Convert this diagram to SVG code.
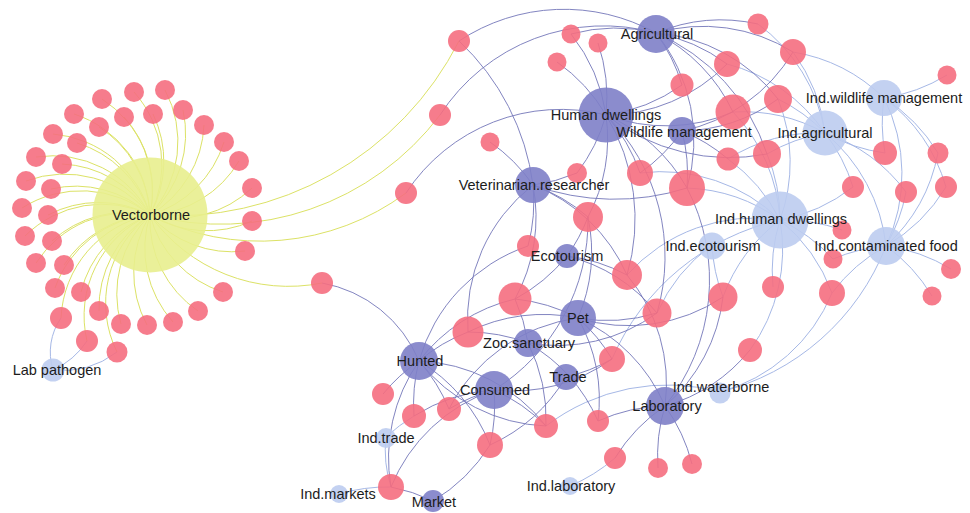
<svg xmlns="http://www.w3.org/2000/svg" width="970" height="513" viewBox="0 0 970 513">
<style>
.y{fill:#E8EE8E}.r{fill:#F56E80}.p{fill:#7E80C8}.l{fill:#BDCCEF}
circle{opacity:.9}
.ey{stroke:#DCE266;stroke-width:1;fill:none}
.ep{stroke:#5C60AE;stroke-width:.9;fill:none;opacity:.85}
.el{stroke:#A6B8E6;stroke-width:1;fill:none}
text{font-family:"Liberation Sans",Arial,sans-serif;font-size:14.5px;fill:#1c1c1c;text-anchor:middle}
</style>
<rect width="970" height="513" fill="#fff"/>
<g id="connectors">
<g class="ey">
<path d="M150 215A110 110 0 0 0 102 99"/><path d="M150 215A110 110 0 0 0 134 92"/><path d="M150 215A110 110 0 0 0 165 90"/><path d="M150 215A110 110 0 0 0 74 114"/><path d="M150 215A110 110 0 0 0 53 134"/><path d="M150 215A110 110 0 0 0 36 157"/><path d="M150 215A110 110 0 0 0 26 181"/><path d="M150 215A110 110 0 0 0 22 208"/><path d="M150 215A110 110 0 0 0 25 236"/><path d="M150 215A110 110 0 0 0 36 263"/><path d="M150 215A110 110 0 0 0 55 288"/><path d="M150 215A110 110 0 0 0 61 318"/><path d="M150 215A110 110 0 0 0 87 341"/><path d="M150 215A110 110 0 0 0 117 352"/><path d="M150 215A110 110 0 0 0 99 127"/><path d="M150 215A110 110 0 0 0 124 117"/><path d="M150 215A110 110 0 0 0 153 114"/><path d="M150 215A110 110 0 0 0 183 110"/><path d="M150 215A110 110 0 0 0 204 125"/><path d="M150 215A110 110 0 0 0 224 142"/><path d="M150 215A110 110 0 0 0 239 161"/><path d="M150 215A110 110 0 0 0 252 188"/><path d="M150 215A110 110 0 0 0 252 221"/><path d="M150 215A110 110 0 0 0 245 251"/><path d="M150 215A110 110 0 0 0 223 292"/><path d="M150 215A110 110 0 0 0 198 311"/><path d="M150 215A110 110 0 0 0 173 322"/><path d="M150 215A110 110 0 0 0 147 325"/><path d="M150 215A110 110 0 0 0 121 324"/><path d="M150 215A110 110 0 0 0 99 311"/><path d="M150 215A110 110 0 0 0 81 292"/><path d="M150 215A110 110 0 0 0 64 265"/><path d="M150 215A110 110 0 0 0 52 241"/><path d="M150 215A110 110 0 0 0 48 215"/><path d="M150 215A110 110 0 0 0 51 189"/><path d="M150 215A110 110 0 0 0 62 164"/><path d="M150 215A110 110 0 0 0 77 143"/>
<path d="M150 215A320 320 0 0 0 459 41"/><path d="M150 215A275 275 0 0 0 440 115"/><path d="M150 215A245 245 0 0 0 406 193"/><path d="M150 215A170 170 0 0 0 322 283"/>
</g>
<g class="el">
<path d="M53 370A60 60 0 0 1 61 318"/><path d="M53 370A80 80 0 0 0 87 341"/><path d="M53 370A90 90 0 0 0 117 352"/>
<path d="M640 173A170 170 0 0 1 780 220"/><path d="M687 188A170 170 0 0 1 780 220"/>
<path d="M758 24A170 170 0 0 1 825 133"/><path d="M793 52A170 170 0 0 1 825 133"/><path d="M793 52A170 170 0 0 1 884 98"/>
<path d="M727 64A170 170 0 0 1 825 133"/><path d="M733 112A170 170 0 0 1 825 133"/><path d="M733 112A170 170 0 0 1 780 220"/>
<path d="M778 99A170 170 0 0 1 825 133"/><path d="M778 99A170 170 0 0 1 780 220"/><path d="M947 75A170 170 0 0 1 884 98"/>
<path d="M728 159A170 170 0 0 1 825 133"/><path d="M728 159A170 170 0 0 1 780 220"/><path d="M767 154A170 170 0 0 1 780 220"/><path d="M767 154A170 170 0 0 1 825 133"/>
<path d="M885 153A170 170 0 0 1 825 133"/><path d="M885 153A170 170 0 0 1 884 98"/><path d="M938 153A170 170 0 0 0 884 98"/><path d="M938 153A170 170 0 0 1 886 246"/>
<path d="M853 187A170 170 0 0 0 825 133"/><path d="M853 187A170 170 0 0 1 780 220"/><path d="M906 192A170 170 0 0 0 825 133"/><path d="M906 192A170 170 0 0 1 886 246"/>
<path d="M946 187A170 170 0 0 0 884 98"/><path d="M946 187A170 170 0 0 1 886 246"/><path d="M842 230A170 170 0 0 0 780 220"/>
<path d="M833 259A170 170 0 0 0 780 220"/><path d="M833 259A170 170 0 0 1 886 246"/><path d="M773 287A170 170 0 0 1 780 220"/>
<path d="M723 297A170 170 0 0 1 712 245"/><path d="M723 297A170 170 0 0 1 780 220"/>
<path d="M832 293A170 170 0 0 0 780 220"/><path d="M832 293A170 170 0 0 1 886 246"/><path d="M720 392A170 170 0 0 0 832 293"/>
<path d="M951 269A170 170 0 0 0 886 246"/><path d="M932 296A170 170 0 0 0 886 246"/>
<path d="M657 313A170 170 0 0 1 712 245"/><path d="M627 275A170 170 0 0 1 780 220"/>
<path d="M414 416A170 170 0 0 0 386 437"/><path d="M546 426A200 200 0 0 1 720 392"/>
<path d="M615 458A170 170 0 0 1 570 486"/><path d="M612 359A240 240 0 0 1 780 220"/><path d="M750 350A170 170 0 0 0 780 220"/>
<path d="M391 487A170 170 0 0 0 339 494"/><path d="M391 487A120 120 0 0 1 386 437"/>
<path d="M886 246A240 240 0 0 1 720 392"/><path d="M884 98A170 170 0 0 1 886 246"/><path d="M825 133A170 170 0 0 1 886 246"/>
</g>
<g class="ep">
<path d="M459 41A190 190 0 0 1 656 33"/><path d="M459 41A240 240 0 0 1 533 185"/><path d="M440 115A195 195 0 0 1 656 33"/><path d="M406 193A185 185 0 0 1 606 115"/><path d="M322 283A130 130 0 0 1 419 361"/>
<path d="M571 34A170 170 0 0 1 606 115"/><path d="M571 34A170 170 0 0 1 656 33"/><path d="M598 43A170 170 0 0 1 606 115"/><path d="M557 62A170 170 0 0 1 606 115"/>
<path d="M490 142A170 170 0 0 1 533 185"/><path d="M577 173A170 170 0 0 0 606 115"/><path d="M577 173A170 170 0 0 1 533 185"/>
<path d="M640 173A170 170 0 0 0 606 115"/><path d="M640 173A170 170 0 0 0 682 131"/>
<path d="M588 217A170 170 0 0 0 606 115"/><path d="M588 217A170 170 0 0 0 533 185"/><path d="M588 217A170 170 0 0 1 578 318"/><path d="M588 217A200 200 0 0 1 494 390"/><path d="M588 217A170 170 0 0 1 567 256"/>
<path d="M528 246A170 170 0 0 0 533 185"/><path d="M528 246A170 170 0 0 0 419 361"/>
<path d="M687 188A170 170 0 0 0 682 131"/><path d="M687 188A170 170 0 0 0 606 115"/><path d="M687 188A170 170 0 0 0 656 33"/><path d="M687 188A200 200 0 0 1 665 406"/><path d="M687 188A240 240 0 0 1 533 185"/>
<path d="M758 24A170 170 0 0 0 656 33"/><path d="M793 52A170 170 0 0 0 656 33"/><path d="M793 52A170 170 0 0 1 682 131"/>
<path d="M727 64A170 170 0 0 0 656 33"/><path d="M727 64A170 170 0 0 1 606 115"/><path d="M682 85A170 170 0 0 0 656 33"/><path d="M682 85A170 170 0 0 1 606 115"/>
<path d="M733 112A170 170 0 0 0 656 33"/><path d="M733 112A170 170 0 0 1 606 115"/><path d="M778 99A170 170 0 0 0 656 33"/><path d="M778 99A170 170 0 0 1 682 131"/>
<path d="M728 159A170 170 0 0 0 682 131"/><path d="M767 154A200 200 0 0 0 656 33"/><path d="M767 154A200 200 0 0 1 606 115"/>
<path d="M723 297A170 170 0 0 1 578 318"/><path d="M723 297A170 170 0 0 1 665 406"/>
<path d="M657 313A170 170 0 0 0 567 256"/><path d="M657 313A170 170 0 0 1 578 318"/><path d="M657 313A200 200 0 0 0 606 115"/><path d="M657 313A170 170 0 0 1 528 343"/>
<path d="M627 275A170 170 0 0 0 567 256"/><path d="M627 275A200 200 0 0 0 606 115"/><path d="M627 275A170 170 0 0 1 665 406"/><path d="M627 275A170 170 0 0 0 533 185"/>
<path d="M515 299A170 170 0 0 0 567 256"/><path d="M515 299A170 170 0 0 1 528 343"/><path d="M515 299A170 170 0 0 0 419 361"/><path d="M515 299A170 170 0 0 1 578 318"/><path d="M515 299A170 170 0 0 0 533 185"/>
<path d="M468 332A170 170 0 0 0 419 361"/><path d="M468 332A170 170 0 0 1 528 343"/><path d="M468 332A170 170 0 0 1 578 318"/><path d="M468 332A170 170 0 0 1 533 185"/>
<path d="M383 394A170 170 0 0 1 419 361"/>
<path d="M414 416A170 170 0 0 1 419 361"/><path d="M414 416A170 170 0 0 1 494 390"/>
<path d="M449 409A170 170 0 0 0 419 361"/><path d="M449 409A170 170 0 0 1 494 390"/><path d="M449 409A170 170 0 0 1 578 318"/>
<path d="M546 426A170 170 0 0 0 419 361"/><path d="M546 426A170 170 0 0 0 528 343"/><path d="M546 426A170 170 0 0 0 494 390"/>
<path d="M598 421A170 170 0 0 0 528 343"/><path d="M598 421A170 170 0 0 1 665 406"/><path d="M598 421A170 170 0 0 0 578 318"/>
<path d="M490 445A170 170 0 0 0 419 361"/><path d="M490 445A170 170 0 0 0 494 390"/><path d="M490 445A170 170 0 0 0 566 377"/><path d="M433 501A170 170 0 0 0 490 445"/>
<path d="M391 487A170 170 0 0 1 433 501"/><path d="M391 487A170 170 0 0 1 419 361"/><path d="M391 487A170 170 0 0 1 494 390"/>
<path d="M615 458A170 170 0 0 1 665 406"/>
<path d="M612 359A170 170 0 0 0 578 318"/><path d="M612 359A170 170 0 0 1 566 377"/><path d="M612 359A170 170 0 0 1 494 390"/>
<path d="M750 350A170 170 0 0 1 665 406"/><path d="M658 468A170 170 0 0 1 665 406"/><path d="M692 464A170 170 0 0 0 665 406"/>
<path d="M578 318A170 170 0 0 1 665 406"/><path d="M419 361A170 170 0 0 0 546 426"/>
</g>
</g>
<g id="vectorborne"><circle class="y" cx="150" cy="215" r="57.5"/><text x="151" y="220">Vectorborne</text></g>
<g id="pathogens">
<circle class="r" cx="102" cy="99" r="10"/><circle class="r" cx="134" cy="92" r="10"/><circle class="r" cx="165" cy="90" r="10"/><circle class="r" cx="74" cy="114" r="10"/><circle class="r" cx="53" cy="134" r="10"/><circle class="r" cx="36" cy="157" r="10"/><circle class="r" cx="26" cy="181" r="10"/><circle class="r" cx="22" cy="208" r="10"/><circle class="r" cx="25" cy="236" r="10"/><circle class="r" cx="36" cy="263" r="10"/><circle class="r" cx="55" cy="288" r="10"/><circle class="r" cx="61" cy="318" r="11"/><circle class="r" cx="87" cy="341" r="11"/><circle class="r" cx="117" cy="352" r="10.5"/>
<circle class="r" cx="99" cy="127" r="10"/><circle class="r" cx="124" cy="117" r="10"/><circle class="r" cx="153" cy="114" r="10"/><circle class="r" cx="183" cy="110" r="10"/><circle class="r" cx="204" cy="125" r="10"/><circle class="r" cx="224" cy="142" r="10"/><circle class="r" cx="239" cy="161" r="10"/><circle class="r" cx="252" cy="188" r="10"/><circle class="r" cx="252" cy="221" r="10"/><circle class="r" cx="245" cy="251" r="10"/><circle class="r" cx="223" cy="292" r="10"/><circle class="r" cx="198" cy="311" r="10"/><circle class="r" cx="173" cy="322" r="10"/><circle class="r" cx="147" cy="325" r="10"/><circle class="r" cx="121" cy="324" r="10"/><circle class="r" cx="99" cy="311" r="10"/><circle class="r" cx="81" cy="292" r="10"/><circle class="r" cx="64" cy="265" r="10"/><circle class="r" cx="52" cy="241" r="10"/><circle class="r" cx="48" cy="215" r="10"/><circle class="r" cx="51" cy="189" r="10"/><circle class="r" cx="62" cy="164" r="10"/><circle class="r" cx="77" cy="143" r="10"/>
<circle class="r" cx="459" cy="41" r="11"/><circle class="r" cx="440" cy="115" r="11"/><circle class="r" cx="406" cy="193" r="11"/><circle class="r" cx="322" cy="283" r="11"/>
<circle class="r" cx="571" cy="34" r="9.5"/><circle class="r" cx="598" cy="43" r="9.5"/><circle class="r" cx="557" cy="62" r="9.5"/><circle class="r" cx="490" cy="142" r="9.5"/><circle class="r" cx="577" cy="173" r="10"/><circle class="r" cx="640" cy="173" r="13"/><circle class="r" cx="588" cy="217" r="15"/><circle class="r" cx="528" cy="246" r="11"/><circle class="r" cx="687" cy="188" r="18"/>
<circle class="r" cx="758" cy="24" r="10.5"/><circle class="r" cx="793" cy="52" r="13"/><circle class="r" cx="727" cy="64" r="13"/><circle class="r" cx="682" cy="85" r="11.5"/><circle class="r" cx="733" cy="112" r="17.5"/><circle class="r" cx="778" cy="99" r="14"/><circle class="r" cx="947" cy="75" r="9.5"/><circle class="r" cx="728" cy="159" r="11.5"/><circle class="r" cx="767" cy="154" r="14"/>
<circle class="r" cx="885" cy="153" r="12"/><circle class="r" cx="938" cy="153" r="10.5"/><circle class="r" cx="853" cy="187" r="11"/><circle class="r" cx="906" cy="192" r="11"/><circle class="r" cx="946" cy="187" r="11"/><circle class="r" cx="842" cy="230" r="9.5"/><circle class="r" cx="833" cy="259" r="9.5"/><circle class="r" cx="773" cy="287" r="11"/><circle class="r" cx="723" cy="297" r="14.5"/><circle class="r" cx="832" cy="293" r="13"/><circle class="r" cx="951" cy="269" r="10"/><circle class="r" cx="932" cy="296" r="9.5"/>
<circle class="r" cx="657" cy="313" r="14.5"/><circle class="r" cx="627" cy="275" r="15"/><circle class="r" cx="515" cy="299" r="16.5"/><circle class="r" cx="468" cy="332" r="15.5"/><circle class="r" cx="383" cy="394" r="11"/><circle class="r" cx="414" cy="416" r="12"/><circle class="r" cx="449" cy="409" r="12"/><circle class="r" cx="546" cy="426" r="12"/><circle class="r" cx="598" cy="421" r="11"/><circle class="r" cx="490" cy="445" r="13"/><circle class="r" cx="391" cy="487" r="13"/><circle class="r" cx="615" cy="458" r="11"/><circle class="r" cx="612" cy="359" r="13"/><circle class="r" cx="750" cy="350" r="12"/><circle class="r" cx="658" cy="468" r="10"/><circle class="r" cx="692" cy="464" r="10"/>
</g>
<g id="agricultural"><circle class="p" cx="656" cy="34" r="19"/><text x="657" y="39">Agricultural</text></g>
<g id="human-dwellings"><circle class="p" cx="606" cy="115" r="27.5"/><text x="606" y="120">Human dwellings</text></g>
<g id="wildlife-management"><circle class="p" cx="682" cy="131" r="14"/><text x="684" y="137">Wildlife management</text></g>
<g id="veterinarian-researcher"><circle class="p" cx="533" cy="185" r="18"/><text x="534" y="190">Veterinarian.researcher</text></g>
<g id="ecotourism"><circle class="p" cx="567" cy="256" r="12"/><text x="567" y="261">Ecotourism</text></g>
<g id="pet"><circle class="p" cx="578" cy="318" r="18"/><text x="578" y="323">Pet</text></g>
<g id="zoo-sanctuary"><circle class="p" cx="528" cy="343" r="14"/><text x="529" y="348">Zoo.sanctuary</text></g>
<g id="hunted"><circle class="p" cx="419" cy="361" r="19"/><text x="420" y="366">Hunted</text></g>
<g id="consumed"><circle class="p" cx="494" cy="390" r="19"/><text x="495" y="395">Consumed</text></g>
<g id="trade"><circle class="p" cx="566" cy="377" r="13"/><text x="568" y="382">Trade</text></g>
<g id="laboratory"><circle class="p" cx="665" cy="406" r="19"/><text x="667" y="411">Laboratory</text></g>
<g id="market"><circle class="p" cx="433" cy="501" r="11"/><text x="434" y="507">Market</text></g>
<g id="ind-wildlife-management"><circle class="l" cx="884" cy="98" r="18"/><text x="884" y="103">Ind.wildlife management</text></g>
<g id="ind-agricultural"><circle class="l" cx="825" cy="133" r="22.5"/><text x="825" y="138">Ind.agricultural</text></g>
<g id="ind-human-dwellings"><circle class="l" cx="780" cy="220" r="28.5"/><text x="781" y="224">Ind.human dwellings</text></g>
<g id="ind-ecotourism"><circle class="l" cx="712" cy="246" r="13.5"/><text x="713" y="251">Ind.ecotourism</text></g>
<g id="ind-contaminated-food"><circle class="l" cx="886" cy="246" r="19"/><text x="886" y="251">Ind.contaminated food</text></g>
<g id="ind-waterborne"><circle class="l" cx="720" cy="393" r="10.5"/><text x="721" y="392">Ind.waterborne</text></g>
<g id="ind-trade"><circle class="l" cx="386" cy="438" r="10"/><text x="386" y="443">Ind.trade</text></g>
<g id="ind-markets"><circle class="l" cx="339" cy="494" r="9"/><text x="338" y="499">Ind.markets</text></g>
<g id="ind-laboratory"><circle class="l" cx="570" cy="486" r="9"/><text x="571" y="491">Ind.laboratory</text></g>
<g id="lab-pathogen"><circle class="l" cx="53" cy="370" r="11.5"/><text x="57" y="375">Lab pathogen</text></g>
</svg>
